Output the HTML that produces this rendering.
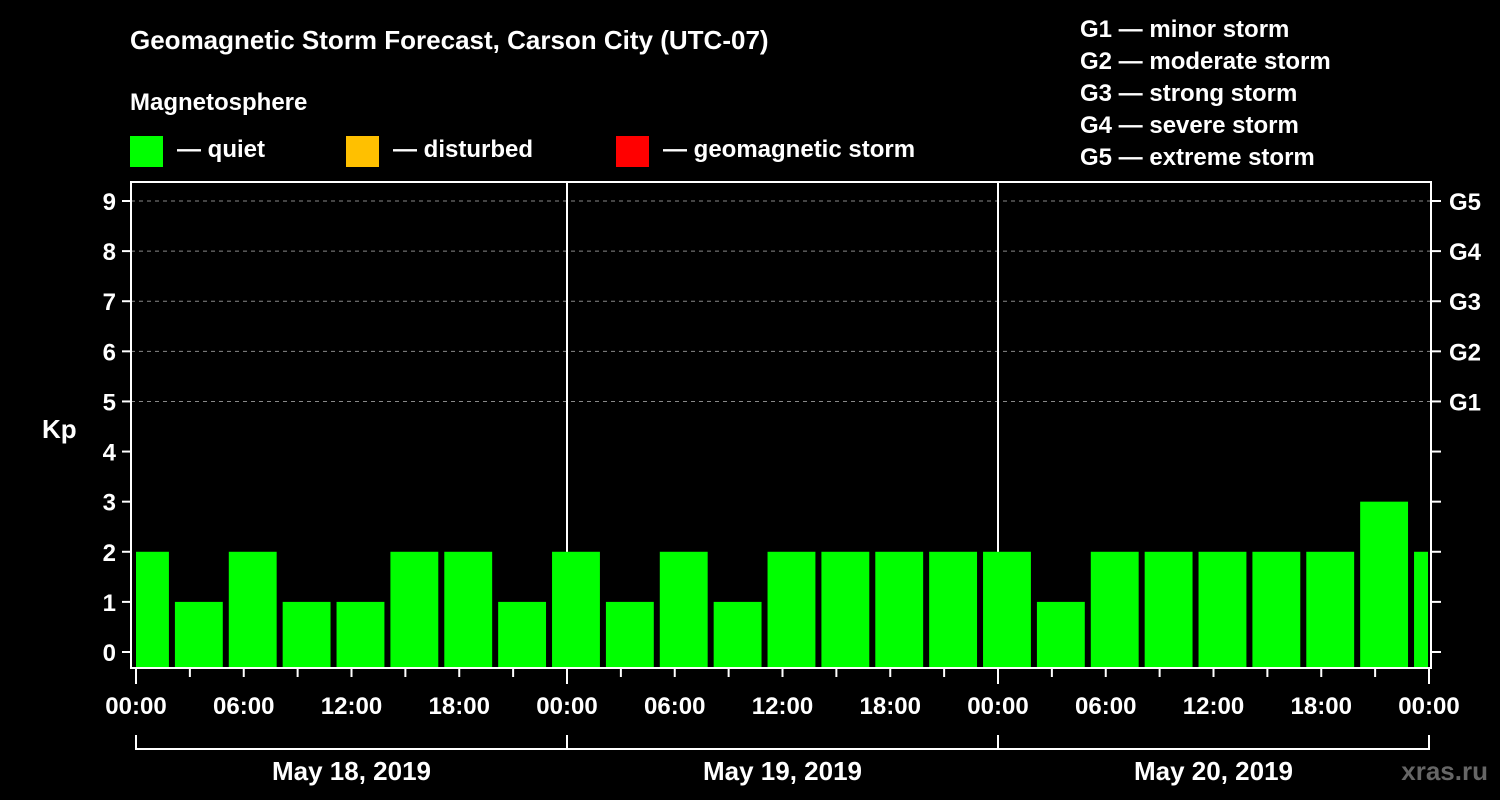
<!DOCTYPE html>
<html><head><meta charset="utf-8"><style>
html,body{margin:0;padding:0;background:#000;}
svg{display:block;font-family:"Liberation Sans",Arial,sans-serif;font-weight:bold;}
</style></head><body>
<svg id="chart" width="1500" height="800" viewBox="0 0 1500 800" xmlns="http://www.w3.org/2000/svg">
<rect width="1500" height="800" fill="#000"/>
<text x="130" y="49" fill="#fff" font-size="26">Geomagnetic Storm Forecast, Carson City (UTC-07)</text>
<text x="130" y="110" fill="#fff" font-size="24">Magnetosphere</text>
<g><rect x="130" y="136" width="33" height="31" fill="#00ff00"/><text x="177" y="157" fill="#fff" font-size="24">— quiet</text></g>
<g><rect x="346" y="136" width="33" height="31" fill="#ffc000"/><text x="393" y="157" fill="#fff" font-size="24">— disturbed</text></g>
<g><rect x="616" y="136" width="33" height="31" fill="#ff0000"/><text x="663" y="157" fill="#fff" font-size="24">— geomagnetic storm</text></g>
<g fill="#fff" font-size="24">
<text x="1080" y="37">G1 — minor storm</text>
<text x="1080" y="69">G2 — moderate storm</text>
<text x="1080" y="101">G3 — strong storm</text>
<text x="1080" y="133">G4 — severe storm</text>
<text x="1080" y="165">G5 — extreme storm</text>
</g>
<text x="42" y="438" fill="#fff" font-size="26">Kp</text>
<text x="1488" y="780" fill="#666" font-size="26" text-anchor="end">xras.ru</text>
<g id="grid"></g>
<g id="bars"></g>
<g id="axes"></g>
</svg>
<script>
const kpValues=[2,1,2,1,1,2,2,1,2,1,2,1,2,2,2,2,2,1,2,2,2,2,2,3,2];
const blockStartHours=[-1,2,5,8,11,14,17,20,23,26,29,32,35,38,41,44,47,50,53,56,59,62,65,68,71];
const yTicks=[0,1,2,3,4,5,6,7,8,9];
const gLabels=["G1","G2","G3","G4","G5"];
const gLevels=[5,6,7,8,9];
const xTickLabels=["00:00","06:00","12:00","18:00","00:00","06:00","12:00","18:00","00:00","06:00","12:00","18:00","00:00"];
const dayLabels=["May 18, 2019","May 19, 2019","May 20, 2019"];
const NS="http://www.w3.org/2000/svg";
const X0=136,X1=1429,HOURS=72,Y0=652,Y9=201,BOXT=182,BOXB=668,BOXL=131,BOXR=1431;
const xs=h=>X0+(X1-X0)*h/HOURS;
const ys=v=>Y0+(Y9-Y0)*v/9;
function mk(tag,parent,attrs){const e=document.createElementNS(NS,tag);for(const k in attrs)e.setAttribute(k,attrs[k]);document.getElementById(parent).appendChild(e);return e;}
gLevels.forEach(v=>{
 const l=mk('line','grid',{x1:BOXL,x2:BOXR,y1:ys(v),y2:ys(v),stroke:'#888','stroke-width':1,'stroke-dasharray':'4,4'});
 
 
});
[24,48].forEach(h=>{
 const l=mk('line','grid',{x1:xs(h),x2:xs(h),y1:BOXT,y2:BOXB,stroke:'#fff','stroke-width':2});
 
 
});
kpValues.forEach((v,i)=>{
 const s=Math.max(0,blockStartHours[i]),e=Math.min(HOURS,blockStartHours[i]+3);
 let xa=xs(s)+(s>blockStartHours[i]?0:3), xb=xs(e)-(e<blockStartHours[i]+3?1:3);
 const col=v>=5?'#ff0000':(v>=4?'#ffc000':'#00ff00');
 const r=mk('rect','bars',{x:xa,y:ys(v),width:xb-xa,height:BOXB-ys(v),fill:col});
 
 
});
const box=mk('rect','axes',{x:BOXL,y:BOXT,width:BOXR-BOXL,height:BOXB-BOXT,fill:'none',stroke:'#fff','stroke-width':2});


yTicks.forEach(v=>{
 mk('line','axes',{x1:BOXL-9,x2:BOXL,y1:ys(v),y2:ys(v),stroke:'#fff','stroke-width':2});
 mk('line','axes',{x1:BOXR,x2:BOXR+10,y1:ys(v),y2:ys(v),stroke:'#fff','stroke-width':2});
 const t=mk('text','axes',{x:116,y:ys(v)+9,fill:'#fff','font-size':24,'text-anchor':'end'});
 t.textContent=v;
 
 
});
gLevels.forEach((v,i)=>{
 const t=mk('text','axes',{x:1449,y:ys(v)+9,fill:'#fff','font-size':24});
 t.textContent=gLabels[i];
 
 
});
for(let h=0;h<=HOURS;h+=3){
 const major=h%24===0;
 mk('line','axes',{x1:xs(h),x2:xs(h),y1:BOXB,y2:BOXB+(major?16:9),stroke:'#fff','stroke-width':2});
}
xTickLabels.forEach((lab,i)=>{
 const t=mk('text','axes',{x:xs(i*6),y:714,fill:'#fff','font-size':24,'text-anchor':'middle'});
 t.textContent=lab;
 
 
});
mk('path','axes',{d:`M${xs(0)} 735 V749 H${xs(72)} V735 M${xs(24)} 735 V749 M${xs(48)} 735 V749`,stroke:'#fff','stroke-width':2,fill:'none'});
dayLabels.forEach((lab,i)=>{
 const t=mk('text','axes',{x:xs(i*24+12),y:780,fill:'#fff','font-size':26,'text-anchor':'middle'});
 t.textContent=lab;
 
 
});
</script>
</body></html>
